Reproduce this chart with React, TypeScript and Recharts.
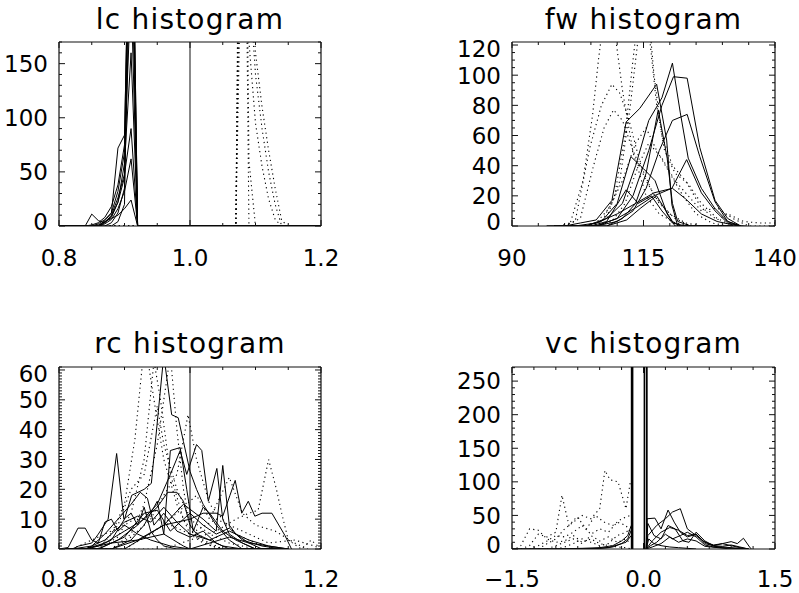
import React from 'react';
import { LineChart, Line, XAxis, YAxis, ReferenceLine } from 'recharts';

type Pt = [number, number];

const W = 799;
const H = 593;
const FONT = '"DejaVu Sans", sans-serif';
const TICK_FS = 23;
const TITLE_FS = 28;

// ---------------- lc histogram ----------------
const lcXMajor = [0.8, 1.0, 1.2];
const lcXLabels = ['0.8', '1.0', '1.2'];
const lcYMajor = [0, 50, 100, 150];
const lcYLabels = ['0', '50', '100', '150'];
const lcRefX = [1.0];
const lcSolid1: Pt[] = [[0.8, 0], [0.84, 0], [0.85, 11], [0.86, 5], [0.87, 3], [0.88, 9], [0.89, 22], [0.9, 45], [0.91, 320], [0.92, 0], [1.2, 0]];
const lcSolid2: Pt[] = [[0.8, 0], [0.85, 0], [0.86, 2], [0.87, 6], [0.88, 12], [0.89, 72], [0.9, 84], [0.91, 360], [0.92, 0], [1.2, 0]];
const lcSolid3: Pt[] = [[0.8, 0], [0.86, 0], [0.87, 4], [0.88, 7], [0.89, 10], [0.9, 16], [0.91, 24], [0.92, 0], [1.2, 0]];
const lcSolid4: Pt[] = [[0.8, 0], [0.86, 0], [0.87, 3], [0.88, 10], [0.89, 26], [0.9, 48], [0.91, 90], [0.92, 0], [1.2, 0]];
const lcSolid5: Pt[] = [[0.8, 0], [0.86, 0], [0.87, 2], [0.88, 6], [0.89, 16], [0.9, 32], [0.91, 62], [0.92, 0], [1.2, 0]];
const lcSolid6: Pt[] = [[0.8, 0], [0.84, 0], [0.85, 1], [0.86, 3], [0.87, 8], [0.88, 18], [0.89, 38], [0.9, 75], [0.91, 400], [0.92, 0], [1.2, 0]];
const lcSolid7: Pt[] = [[0.8, 0], [0.85, 0], [0.86, 1], [0.87, 4], [0.88, 8], [0.89, 22], [0.9, 58], [0.91, 160], [0.92, 0], [1.2, 0]];
const lcSolid8: Pt[] = [[0.8, 0], [0.87, 0], [0.88, 3], [0.89, 12], [0.9, 35], [0.91, 280], [0.92, 0], [1.2, 0]];
const lcSolid9: Pt[] = [[0.8, 0], [0.86, 0], [0.87, 5], [0.88, 12], [0.89, 32], [0.9, 68], [0.91, 220], [0.92, 0], [1.2, 0]];
const lcSolid10: Pt[] = [[0.8, 0], [0.88, 0], [0.89, 4], [0.9, 20], [0.905, 240], [0.915, 200], [0.92, 0], [1.2, 0]];
const lcDot1: Pt[] = [[0.8, 0], [1.07, 0], [1.08, 600], [1.09, 0], [1.2, 0]];
const lcDot2: Pt[] = [[0.8, 0], [1.07, 0], [1.08, 700], [1.09, 60], [1.1, 0], [1.2, 0]];
const lcDot3: Pt[] = [[0.8, 0], [1.07, 0], [1.08, 520], [1.09, 170], [1.1, 95], [1.11, 55], [1.12, 25], [1.13, 6], [1.14, 0], [1.2, 0]];
const lcDot4: Pt[] = [[0.8, 0], [1.07, 0], [1.08, 420], [1.09, 230], [1.1, 140], [1.11, 90], [1.12, 50], [1.13, 20], [1.14, 0], [1.2, 0]];
const lcDot5: Pt[] = [[0.8, 0], [1.07, 0], [1.08, 320], [1.09, 260], [1.1, 160], [1.11, 110], [1.12, 70], [1.13, 35], [1.14, 5], [1.15, 0], [1.2, 0]];

// ---------------- fw histogram ----------------
const fwXMajor = [90, 115, 140];
const fwXLabels = ['90', '115', '140'];
const fwYMajor = [0, 20, 40, 60, 80, 100, 120];
const fwYLabels = ['0', '20', '40', '60', '80', '100', '120'];
const fwSolid1: Pt[] = [[96.6, 0], [100, 0], [103, 2], [106, 4], [109, 17], [111.7, 69], [114.3, 78], [117.5, 94], [119.4, 57], [120.4, 14], [121.5, 0], [134, 0]];
const fwSolid2: Pt[] = [[96.6, 0], [104, 0], [108, 5], [111, 15], [113.5, 40], [116, 70], [118.5, 85], [120.5, 108], [122, 75], [123.5, 45], [126, 25], [128.5, 12], [131, 3], [133.5, 0]];
const fwSolid3: Pt[] = [[98, 0], [106, 0], [110, 5], [113, 20], [116, 50], [118.5, 80], [120.7, 99], [123.3, 98], [125.7, 52], [128.6, 17], [131, 5], [133.5, 0]];
const fwSolid4: Pt[] = [[98, 0], [106, 0], [110, 3], [113, 10], [115.5, 25], [118, 50], [120.5, 70], [123.3, 74], [125.7, 46], [128.6, 16], [131, 3], [133.5, 0]];
const fwSolid5: Pt[] = [[100, 0], [108, 0], [111, 5], [113.5, 15], [115.5, 35], [117.8, 77], [119.5, 45], [120.5, 15], [121.5, 3], [124, 0], [132, 0]];
const fwSolid6: Pt[] = [[100, 0], [104, 0], [107, 3], [110, 15], [112.6, 46], [115, 38], [117.2, 30], [119.5, 8], [121, 0], [130, 0]];
const fwSolid7: Pt[] = [[100, 0], [105, 0], [108, 3], [111.7, 24], [114, 15], [116.5, 20], [118.5, 10], [120.5, 2], [123, 0], [132, 0]];
const fwSolid8: Pt[] = [[100, 0], [106, 0], [110, 5], [113.5, 12], [117, 20], [120.4, 25], [123.2, 44], [126, 22], [128.6, 10], [131, 2], [133.5, 0]];
const fwSolid9: Pt[] = [[102, 0], [108, 0], [111.8, 4], [114.5, 12], [117.5, 20], [120.5, 3], [122, 0], [132, 0]];
const fwSolid10: Pt[] = [[98, 0], [102, 0], [106, 2], [110, 8], [113.5, 15], [117, 22], [120.5, 25], [123, 18], [126, 8], [129, 3], [133, 0], [134.5, 0]];
const fwDot1: Pt[] = [[98, 0], [101, 1], [103.5, 30], [105.3, 73], [106.4, 109], [107.5, 140], [109.5, 130], [111, 90], [113, 49], [115.5, 20], [118, 8], [121, 2], [124, 0]];
const fwDot2: Pt[] = [[99, 0], [102, 3], [104.8, 52], [107, 80], [109, 94], [110.5, 88], [112.1, 72], [114.5, 40], [117, 20], [120, 8], [123, 2], [126, 0]];
const fwDot3: Pt[] = [[100, 0], [103, 5], [105.5, 40], [107.5, 65], [109.3, 77], [111, 70], [113, 50], [115.5, 30], [118, 15], [121, 5], [124, 0]];
const fwDot4: Pt[] = [[104, 0], [107, 2], [109.5, 20], [111.5, 60], [113, 110], [114.3, 150], [116, 130], [117.5, 80], [119, 50], [121, 35], [123.5, 28], [126, 15], [129, 5], [132, 0]];
const fwDot5: Pt[] = [[105, 0], [108, 5], [110.5, 30], [112.5, 80], [114.5, 140], [115.5, 160], [117, 100], [118.5, 60], [120.5, 40], [123, 30], [126, 12], [129, 4], [131, 8], [134, 3], [137, 2], [140, 2]];
const fwDot6: Pt[] = [[106, 0], [109, 3], [111.5, 15], [114, 40], [116, 55], [118.5, 45], [121, 30], [123.5, 20], [126, 10], [129, 12], [132, 5], [135, 0], [140, 0]];
const fwDot7: Pt[] = [[103, 0], [106, 2], [108.5, 12], [111, 30], [113.5, 55], [115.5, 65], [117.5, 50], [120, 35], [122.5, 20], [125, 8], [128, 2], [131, 0]];

// ---------------- rc histogram ----------------
const rcXMajor = [0.8, 1.0, 1.2];
const rcXLabels = ['0.8', '1.0', '1.2'];
const rcYMajor = [0, 10, 20, 30, 40, 50, 60];
const rcYLabels = ['0', '10', '20', '30', '40', '50', '60'];
const rcRefX = [1.0];
const rcSolid1: Pt[] = [[0.81, 0], [0.82, 0], [0.83, 1], [0.85, 2], [0.86, 5], [0.875, 10], [0.888, 32], [0.899, 10], [0.91, 12], [0.92, 8], [0.93, 14], [0.94, 6], [0.95, 3], [0.96, 1], [0.98, 0], [1.15, 0]];
const rcSolid2: Pt[] = [[0.81, 0], [0.84, 0], [0.86, 1], [0.88, 3], [0.9, 10], [0.911, 18], [0.93, 20], [0.941, 22], [0.96, 65], [0.972, 45], [0.982, 44], [0.99, 36], [1.0, 26], [1.01, 20], [1.02, 15], [1.04, 8], [1.06, 3], [1.08, 0], [1.15, 0]];
const rcSolid3: Pt[] = [[0.81, 0], [0.86, 0], [0.89, 3], [0.92, 8], [0.95, 15], [0.97, 25], [0.985, 33], [0.995, 25], [1.01, 35], [1.018, 33], [1.028, 16], [1.041, 27], [1.05, 10], [1.06, 5], [1.08, 2], [1.1, 0], [1.15, 0]];
const rcSolid4: Pt[] = [[0.81, 0], [0.88, 0], [0.92, 3], [0.96, 8], [1.0, 10], [1.02, 12], [1.04, 12], [1.05, 11], [1.061, 18], [1.069, 23], [1.079, 12], [1.089, 16], [1.099, 11], [1.11, 12], [1.125, 12], [1.145, 4.5], [1.155, 0]];
const rcSolid5: Pt[] = [[0.81, 0], [0.9, 0], [0.93, 4], [0.96, 8], [0.99, 15], [1.02, 10], [1.04, 6], [1.05, 28], [1.06, 8], [1.07, 5], [1.09, 2], [1.11, 0], [1.15, 0]];
const rcSolid6: Pt[] = [[0.81, 0], [0.84, 0], [0.87, 2], [0.9, 6], [0.93, 10], [0.95, 14], [0.966, 19], [0.98, 19], [0.99, 16], [1.0, 8], [1.01, 5], [1.03, 3], [1.05, 1], [1.08, 0], [1.15, 0]];
const rcSolid7: Pt[] = [[0.81, 0], [0.88, 0], [0.91, 3], [0.93, 8], [0.95, 16], [0.96, 5], [0.97, 33], [0.985, 34], [0.995, 20], [1.005, 6], [1.02, 14], [1.03, 12], [1.05, 6], [1.07, 3], [1.1, 0], [1.15, 0]];
const rcSolid8: Pt[] = [[0.81, 0], [0.82, 0], [0.85, 1], [0.87, 5], [0.89, 10], [0.91, 15], [0.924, 19], [0.935, 17], [0.945, 8], [0.96, 12], [0.98, 6], [1.0, 4], [1.02, 6], [1.04, 2], [1.06, 0], [1.15, 0]];
const rcSolid9: Pt[] = [[0.8, 0], [0.814, 0.5], [0.829, 7], [0.84, 7], [0.85, 3], [0.86, 2], [0.87, 9], [0.88, 10], [0.89, 6], [0.9, 8], [0.92, 5], [0.94, 3], [0.97, 1], [1.0, 0], [1.15, 0]];
const rcSolid10: Pt[] = [[0.81, 0], [0.84, 0], [0.88, 2], [0.92, 3], [0.96, 5], [0.99, 1], [1.0, 0], [1.03, 2], [1.06, 4], [1.09, 2], [1.12, 1], [1.15, 0]];
const rcSolid11: Pt[] = [[0.81, 0], [0.86, 0], [0.9, 4], [0.93, 12], [0.95, 13], [0.97, 6], [1.0, 12], [1.02, 8], [1.04, 5], [1.06, 7], [1.08, 3], [1.11, 1], [1.14, 0]];
const rcSolid12: Pt[] = [[0.81, 0], [0.84, 0], [0.87, 3], [0.9, 9], [0.92, 11], [0.94, 9], [0.96, 14], [0.98, 9], [1.0, 5], [1.03, 3], [1.06, 6], [1.09, 3], [1.12, 1], [1.15, 0]];
const rcDot1: Pt[] = [[0.83, 0], [0.86, 0], [0.88, 5], [0.9, 15], [0.916, 37], [0.931, 70], [0.945, 50], [0.96, 30], [0.98, 15], [1.0, 5], [1.02, 2], [1.05, 0]];
const rcDot2: Pt[] = [[0.83, 0], [0.86, 0], [0.89, 4], [0.91, 12], [0.93, 30], [0.945, 63], [0.955, 50], [0.97, 25], [0.99, 10], [1.01, 4], [1.04, 0]];
const rcDot3: Pt[] = [[0.85, 0], [0.88, 0], [0.91, 5], [0.93, 15], [0.95, 35], [0.97, 65], [0.98, 40], [0.99, 20], [1.0, 8], [1.02, 3], [1.05, 0]];
const rcDot4: Pt[] = [[0.85, 0], [0.88, 0], [0.91, 4], [0.94, 10], [0.96, 18], [0.98, 25], [0.997, 45], [1.01, 30], [1.03, 15], [1.05, 10], [1.07, 5], [1.1, 2], [1.13, 0]];
const rcDot5: Pt[] = [[0.9, 0], [0.96, 0], [1.0, 3], [1.04, 6], [1.07, 10], [1.09, 12], [1.104, 13], [1.12, 30], [1.132, 20], [1.14, 12], [1.15, 3], [1.17, 0], [1.185, 3], [1.2, 0]];
const rcDot6: Pt[] = [[0.88, 0], [0.9, 0], [0.94, 5], [0.98, 12], [1.01, 18], [1.03, 10], [1.06, 24], [1.08, 12], [1.1, 8], [1.13, 6], [1.16, 2], [1.18, 0]];
const rcDot7: Pt[] = [[0.84, 0], [0.86, 0], [0.89, 8], [0.91, 20], [0.93, 25], [0.95, 48], [0.96, 35], [0.98, 20], [1.0, 10], [1.03, 5], [1.06, 2], [1.1, 0]];
const rcDot8: Pt[] = [[0.82, 0], [0.85, 3], [0.88, 6], [0.9, 8], [0.93, 12], [0.97, 8], [1.0, 5], [1.04, 10], [1.08, 6], [1.12, 2], [1.16, 3], [1.19, 1], [1.2, 0]];

// ---------------- vc histogram ----------------
const vcXMajor = [-1.5, 0.0, 1.5];
const vcXLabels = ['\u22121.5', '0.0', '1.5'];
const vcYMajor = [0, 50, 100, 150, 200, 250];
const vcYLabels = ['0', '50', '100', '150', '200', '250'];
const vcRefX = [-0.13, 0.011, 0.038];
const vcRefW = [2.6, 1.7, 1.7];
const vcSolidP1: Pt[] = [[0.03, 0], [0.04, 45], [0.13, 46], [0.2, 30], [0.28, 58], [0.35, 40], [0.42, 25], [0.5, 18], [0.6, 22], [0.7, 8], [0.8, 5], [0.9, 4], [1.0, 6], [1.1, 3], [1.2, 0]];
const vcSolidP2: Pt[] = [[0.03, 0], [0.05, 20], [0.15, 35], [0.25, 45], [0.33, 55], [0.42, 60], [0.5, 30], [0.6, 20], [0.7, 10], [0.8, 6], [0.9, 8], [1.0, 11], [1.07, 8], [1.14, 16], [1.21, 3], [1.23, 0]];
const vcSolidP3: Pt[] = [[0.03, 0], [0.05, 38], [0.12, 20], [0.2, 15], [0.28, 35], [0.36, 30], [0.45, 12], [0.52, 10], [0.6, 25], [0.7, 12], [0.8, 5], [0.9, 8], [1.0, 5], [1.1, 2], [1.2, 0]];
const vcSolidP4: Pt[] = [[0.03, 0], [0.1, 12], [0.2, 25], [0.3, 32], [0.4, 28], [0.5, 20], [0.6, 22], [0.68, 12], [0.8, 4], [0.9, 3], [1.0, 2], [1.2, 0]];
const vcSolidP5: Pt[] = [[0.03, 0], [0.08, 5], [0.15, 10], [0.25, 22], [0.33, 15], [0.42, 20], [0.5, 25], [0.6, 18], [0.7, 6], [0.8, 3], [1.0, 1], [1.2, 0]];
const vcSolidP6: Pt[] = [[0.03, 0], [0.1, 3], [0.2, 8], [0.3, 18], [0.4, 10], [0.5, 15], [0.6, 12], [0.7, 4], [0.85, 2], [1.0, 0]];
const vcSolidP7: Pt[] = [[0.03, 0], [0.06, 15], [0.12, 8], [0.2, 5], [0.3, 3], [0.4, 2], [0.6, 0]];
const vcSolidN1: Pt[] = [[-1.5, 0], [-1.0, 0], [-0.7, 1], [-0.5, 2], [-0.35, 5], [-0.25, 12], [-0.18, 20], [-0.14, 35]];
const vcSolidN2: Pt[] = [[-1.5, 0], [-0.8, 0], [-0.5, 1], [-0.35, 3], [-0.25, 8], [-0.18, 15], [-0.14, 28]];
const vcSolidN3: Pt[] = [[-1.5, 0], [-0.6, 0], [-0.4, 2], [-0.3, 6], [-0.2, 10], [-0.14, 20]];
const vcDot1: Pt[] = [[-1.5, 0], [-1.45, 1], [-1.4, 5], [-1.3, 30], [-1.2, 28], [-1.1, 15], [-1.0, 10], [-0.9, 12], [-0.8, 20], [-0.7, 10], [-0.6, 15], [-0.5, 8], [-0.4, 5], [-0.3, 3], [-0.2, 2], [-0.14, 0]];
const vcDot2: Pt[] = [[-1.4, 0], [-1.3, 5], [-1.2, 22], [-1.1, 18], [-1.0, 25], [-0.93, 80], [-0.85, 35], [-0.76, 48], [-0.65, 30], [-0.55, 50], [-0.45, 40], [-0.35, 35], [-0.25, 45], [-0.15, 50]];
const vcDot3: Pt[] = [[-1.2, 0], [-1.1, 8], [-1.0, 15], [-0.9, 30], [-0.8, 40], [-0.7, 50], [-0.6, 45], [-0.5, 60], [-0.44, 117], [-0.38, 103], [-0.29, 100], [-0.2, 60], [-0.15, 100]];
const vcDot4: Pt[] = [[-1.3, 0], [-1.2, 5], [-1.1, 12], [-1.0, 20], [-0.9, 18], [-0.8, 25], [-0.7, 35], [-0.6, 22], [-0.5, 30], [-0.4, 25], [-0.3, 40], [-0.2, 35], [-0.15, 25]];
const vcDot5: Pt[] = [[-1.1, 0], [-1.0, 5], [-0.9, 10], [-0.8, 15], [-0.7, 8], [-0.6, 20], [-0.5, 12], [-0.4, 18], [-0.3, 10], [-0.2, 15], [-0.15, 8]];
const vcDot6: Pt[] = [[-1.0, 0], [-0.9, 3], [-0.8, 8], [-0.7, 15], [-0.6, 10], [-0.5, 5], [-0.4, 8], [-0.3, 20], [-0.2, 25], [-0.15, 30]];

// ---------------- helpers ----------------
function stepTicks(d0: number, d1: number, step: number): number[] {
  const out: number[] = [];
  const n = Math.floor((d1 - d0) / step + 1e-6);
  for (let i = 0; i <= n; i++) out.push(Math.round((d0 + i * step) * 1e6) / 1e6);
  return out;
}
const toRows = (pts: Pt[]) => pts.map(([x, y]) => ({ x, y }));
const majorIndex = (arr: number[], v: number) => arr.findIndex((m) => Math.abs(m - v) < 1e-6);

const MAJ = 6;
const MIN = 3;
const AX = '#111';
const BOT_H = 40;
const LEFT_W = 55;

interface PanelProps {
  l: number; t: number; r: number; b: number;
  xDomain: [number, number];
  yDomain: [number, number];
  xMajor: number[]; xLabels: string[]; xMinor: number;
  yMajor: number[]; yLabels: string[]; yMinor: number;
  solid: Pt[][];
  dotted: Pt[][];
  refX?: number[];
  refW?: number[];
  refColor?: string;
  xLabelY: number;
}

function Panel(p: PanelProps) {
  const xt = stepTicks(p.xDomain[0], p.xDomain[1], p.xMinor);
  const yt = stepTicks(p.yDomain[0], p.yDomain[1], p.yMinor);

  const bottomTick = (props: any) => {
    const { x, payload } = props;
    const y = p.b;
    const i = majorIndex(p.xMajor, payload.value);
    const len = i >= 0 ? MAJ : MIN;
    return (
      <g>
        <line x1={x} y1={y} x2={x} y2={y - len} stroke={AX} strokeWidth={1} />
        {i >= 0 && (
          <text x={x} y={p.xLabelY + 0.365 * TICK_FS} textAnchor="middle" fontFamily={FONT} fontSize={TICK_FS} fill="#000">
            {p.xLabels[i]}
          </text>
        )}
      </g>
    );
  };
  const topTick = (props: any) => {
    const { x, payload } = props;
    const y = p.t;
    const len = majorIndex(p.xMajor, payload.value) >= 0 ? MAJ : MIN;
    return <line x1={x} y1={y} x2={x} y2={y + len} stroke={AX} strokeWidth={1} />;
  };
  const leftTick = (props: any) => {
    const { y, payload } = props;
    const x = p.l;
    const i = majorIndex(p.yMajor, payload.value);
    const len = i >= 0 ? MAJ : MIN;
    const cy = Math.min(Math.max(y, p.t + 7), p.b - 4);
    return (
      <g>
        <line x1={x} y1={y} x2={x + len} y2={y} stroke={AX} strokeWidth={1} />
        {i >= 0 && (
          <text x={x - 11} y={cy + 0.365 * TICK_FS} textAnchor="end" fontFamily={FONT} fontSize={TICK_FS} fill="#000">
            {p.yLabels[i]}
          </text>
        )}
      </g>
    );
  };
  const rightTick = (props: any) => {
    const { y, payload } = props;
    const x = p.r;
    const len = majorIndex(p.yMajor, payload.value) >= 0 ? MAJ : MIN;
    return <line x1={x} y1={y} x2={x - len} y2={y} stroke={AX} strokeWidth={1} />;
  };

  return (
    <div style={{ position: 'absolute', left: 0, top: 0 }}>
      <LineChart width={W} height={H}
        margin={{ top: p.t - 2, left: p.l - LEFT_W, right: W - p.r - 2, bottom: H - p.b - BOT_H }}>
        <XAxis xAxisId="b" orientation="bottom" type="number" dataKey="x" domain={p.xDomain} allowDataOverflow
          ticks={xt} interval={0} tick={bottomTick} tickLine={false} tickSize={0} tickMargin={0} height={BOT_H}
          axisLine={{ stroke: AX, strokeWidth: 1.2 }} />
        <XAxis xAxisId="t" orientation="top" type="number" dataKey="x" domain={p.xDomain} allowDataOverflow
          ticks={xt} interval={0} tick={topTick} tickLine={false} tickSize={0} tickMargin={0} height={2}
          axisLine={{ stroke: AX, strokeWidth: 1.2 }} />
        <YAxis yAxisId="l" orientation="left" type="number" domain={p.yDomain} allowDataOverflow
          ticks={yt} interval={0} tick={leftTick} tickLine={false} tickSize={0} tickMargin={0} width={LEFT_W}
          axisLine={{ stroke: AX, strokeWidth: 1.2 }} />
        <YAxis yAxisId="r" orientation="right" type="number" domain={p.yDomain} allowDataOverflow
          ticks={yt} interval={0} tick={rightTick} tickLine={false} tickSize={0} tickMargin={0} width={2}
          axisLine={{ stroke: AX, strokeWidth: 1.2 }} />
        {(p.refX || []).map((rx, i) => (
          <ReferenceLine key={'ref' + i} x={rx} xAxisId="b" yAxisId="l"
            stroke={p.refColor || '#000'} strokeWidth={p.refW ? p.refW[i] : 1.4} />
        ))}
        {p.dotted.map((s, i) => (
          <Line key={'d' + i} data={toRows(s)} dataKey="y" xAxisId="b" yAxisId="l" type="linear"
            stroke="#000" strokeWidth={1.1} strokeDasharray="1.2 3.4" dot={false} activeDot={false}
            isAnimationActive={false} />
        ))}
        {p.solid.map((s, i) => (
          <Line key={'s' + i} data={toRows(s)} dataKey="y" xAxisId="b" yAxisId="l" type="linear"
            stroke="#000" strokeWidth={1} dot={false} activeDot={false} isAnimationActive={false} />
        ))}
      </LineChart>
    </div>
  );
}

const titles = [
  { text: 'lc histogram', x: 190, y: 28.5 },
  { text: 'fw histogram', x: 643.5, y: 28.5 },
  { text: 'rc histogram', x: 190, y: 352.5 },
  { text: 'vc histogram', x: 643.5, y: 352.5 },
];

export default function App() {
  return (
    <div style={{ position: 'absolute', left: 0, top: 0, width: W, height: H, background: '#fff', overflow: 'hidden' }}>
      <Panel l={59} t={42} r={321} b={226}
        xDomain={[0.8, 1.2]} yDomain={[0, 170]}
        xMajor={lcXMajor} xLabels={lcXLabels} xMinor={0.05}
        yMajor={lcYMajor} yLabels={lcYLabels} yMinor={10}
        solid={[lcSolid1, lcSolid2, lcSolid3, lcSolid4, lcSolid5, lcSolid6, lcSolid7, lcSolid8, lcSolid9, lcSolid10]}
        dotted={[lcDot1, lcDot2, lcDot3, lcDot4, lcDot5]}
        refX={lcRefX} refColor="#555" xLabelY={257.5} />
      <Panel l={512} t={42} r={775} b={226}
        xDomain={[90, 140]} yDomain={[0, 122]}
        xMajor={fwXMajor} xLabels={fwXLabels} xMinor={5}
        yMajor={fwYMajor} yLabels={fwYLabels} yMinor={5}
        solid={[fwSolid1, fwSolid2, fwSolid3, fwSolid4, fwSolid5, fwSolid6, fwSolid7, fwSolid8, fwSolid9, fwSolid10]}
        dotted={[fwDot1, fwDot2, fwDot3, fwDot4, fwDot5, fwDot6, fwDot7]}
        xLabelY={257.5} />
      <Panel l={59} t={367} r={321} b={549}
        xDomain={[0.8, 1.2]} yDomain={[0, 61]}
        xMajor={rcXMajor} xLabels={rcXLabels} xMinor={0.05}
        yMajor={rcYMajor} yLabels={rcYLabels} yMinor={1}
        solid={[rcSolid1, rcSolid2, rcSolid3, rcSolid4, rcSolid5, rcSolid6, rcSolid7, rcSolid8, rcSolid9, rcSolid10, rcSolid11, rcSolid12]}
        dotted={[rcDot1, rcDot2, rcDot3, rcDot4, rcDot5, rcDot6, rcDot7, rcDot8]}
        refX={rcRefX} refColor="#555" xLabelY={578.3} />
      <Panel l={512} t={367} r={775} b={549}
        xDomain={[-1.5, 1.5]} yDomain={[0, 271]}
        xMajor={vcXMajor} xLabels={vcXLabels} xMinor={0.25}
        yMajor={vcYMajor} yLabels={vcYLabels} yMinor={10}
        solid={[vcSolidP1, vcSolidP2, vcSolidP3, vcSolidP4, vcSolidP5, vcSolidP6, vcSolidP7, vcSolidN1, vcSolidN2, vcSolidN3]}
        dotted={[vcDot1, vcDot2, vcDot3, vcDot4, vcDot5, vcDot6]}
        refX={vcRefX} refW={vcRefW} refColor="#000" xLabelY={578.3} />
      <svg width={W} height={H} style={{ position: 'absolute', left: 0, top: 0, pointerEvents: 'none' }}>
        {titles.map((t) => (
          <text key={t.text} x={t.x} y={t.y} textAnchor="middle" fontFamily={FONT} fontSize={TITLE_FS}
            letterSpacing={1.2} fill="#000">
            {t.text}
          </text>
        ))}
      </svg>
    </div>
  );
}
